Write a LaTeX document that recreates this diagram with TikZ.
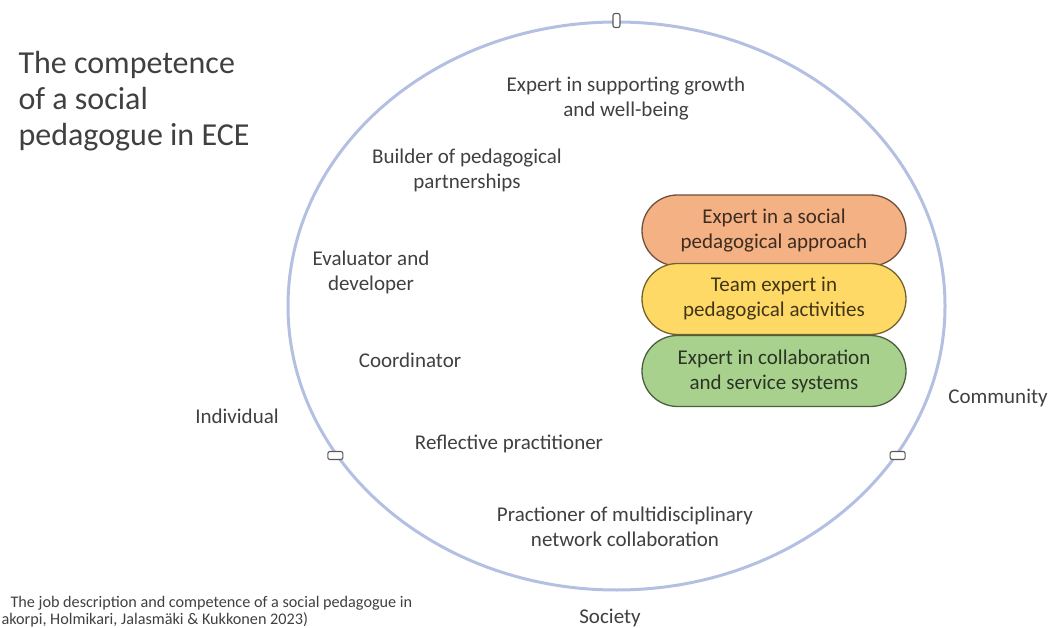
\documentclass[tikz,border=0pt]{standalone}
\usepackage{fontspec}
\setmainfont{Carlito}
\usepackage{tikz}
\usetikzlibrary{shapes.geometric, shapes.misc}

\definecolor{ringblue}{HTML}{B4C0E2}
\definecolor{txtgray}{HTML}{404040}
\definecolor{pillorange}{HTML}{F4B183}
\definecolor{pillyellow}{HTML}{FFD966}
\definecolor{pillgreen}{HTML}{A9D18E}

\begin{document}
\begin{tikzpicture}[x=1pt, y=-1pt,
    every node/.style={text=txtgray, align=center, font=\fontsize{21}{25}\selectfont},
    pill/.style={rounded rectangle, draw=#1!45!black, fill=#1, text=#1!25!black,
        line width=1.3pt, minimum width=264pt, minimum height=71pt, inner sep=0pt},
    marker/.style={draw=black!65, fill=white, line width=1.1pt, rounded corners=2pt, inner sep=0pt}]

        \useasboundingbox (0,0) rectangle (1058,628);

        % Anel
        \node[ellipse, draw=ringblue, line width=3pt, minimum width=657pt, minimum height=568pt] (ring) at (616.5,306) {};
        \node[marker, minimum width=7pt, minimum height=14pt] (mtop) at (ring.north) {};
        \node[marker, minimum width=15pt, minimum height=8pt] (mleft) at (ring.208) {};
        \node[marker, minimum width=15pt, minimum height=8pt] (mright) at (ring.332) {};

        % Titulo e fonte
        \node[anchor=base west, align=left, font=\fontsize{32}{36}\selectfont] (title) at (15,146) {The competence\\of a social\\pedagogue in ECE};
        \node[anchor=base west, font=\fontsize{16.2}{17}\selectfont] (cite1) at (7,607) {The job description and competence of a social pedagogue in};
        \node[anchor=base west, font=\fontsize{16.2}{17}\selectfont] (cite2) at (-2,624) {akorpi, Holmikari, Jalasmäki \& Kukkonen 2023)};

        % Papeis
        \node (growth) at (626,99) {Expert in supporting growth\\and well-being};
        \node (builder) at (467,170) {Builder of pedagogical\\partnerships};
        \node (evaluator) at (371,272) {Evaluator and\\developer};
        \node (coordinator) at (410,360) {Coordinator};
        \node (reflective) at (509,444) {Reflective practitioner};
        \node (network) at (625,527) {Practioner of multidisciplinary\\network collaboration};

        % Niveis
        \node (individual) at (237,416) {Individual};
        \node (community) at (998,398) {Community};
        \node (society) at (610,618) {Society};

        % Camadas
        \node[pill=pillorange] (social) at (774,230.5) {Expert in a social\\pedagogical approach};
        \node[pill=pillyellow] (team) at (774,299) {Team expert in\\pedagogical activities};
        \node[pill=pillgreen] (collab) at (774,371) {Expert in collaboration\\and service systems};

    \end{tikzpicture}
\end{document}
